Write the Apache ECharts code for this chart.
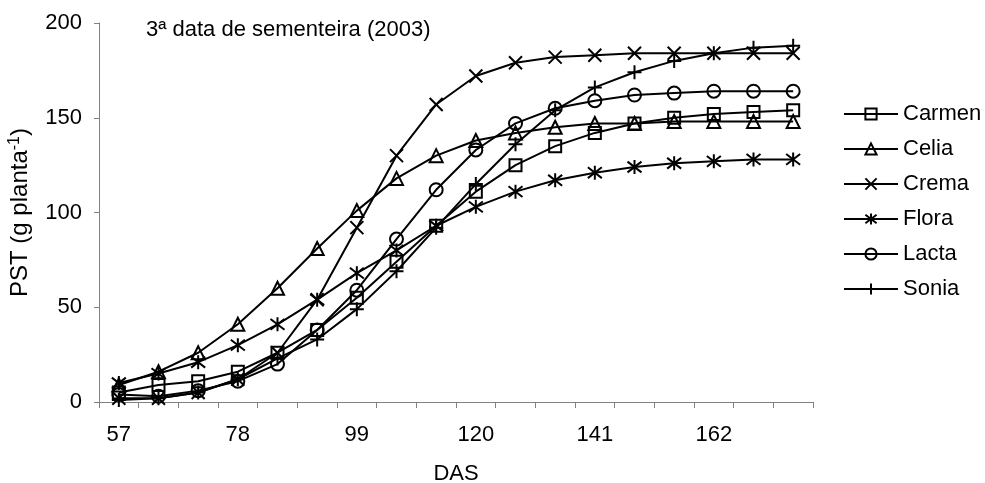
<!DOCTYPE html>
<html>
<head>
<meta charset="utf-8">
<script src="https://cdn.jsdelivr.net/npm/echarts@6/dist/echarts.min.js"></script>
<style>
  html, body { margin: 0; padding: 0; background: #fff; }
  #chart { width: 985px; height: 483px; }
</style>
</head>
<body>
<div id="chart"></div>
<script>
// Days after sowing (DAS), weekly samples
const das = [57, 64, 71, 78, 85, 92, 99, 106, 113, 120, 127, 134, 141, 148, 155, 162, 169, 176];

// Total dry weight (g planta^-1) per cultivar
const carmen = [5, 9, 11, 16, 26, 38, 55, 74, 93, 111, 125, 135, 142, 147, 150, 152, 153, 154];
const celia  = [9, 16, 26, 41, 60, 81, 101, 118, 130, 138, 142, 145, 147, 147, 148, 148, 148, 148];
const crema  = [2, 2, 5, 12, 26, 54, 92, 130, 157, 172, 179, 182, 183, 184, 184, 184, 184, 184];
const flora  = [10, 15, 21, 30, 41, 54, 68, 80, 93, 103, 111, 117, 121, 124, 126, 127, 128, 128];
const lacta  = [4, 3, 6, 11, 20, 38, 59, 86, 112, 133, 147, 155, 159, 162, 163, 164, 164, 164];
const sonia  = [1, 2, 5, 12, 23, 33, 49, 69, 92, 115, 136, 154, 166, 174, 180, 184, 187, 188];

const seriesNames = ['Carmen', 'Celia', 'Crema', 'Flora', 'Lacta', 'Sonia'];
const seriesData = [carmen, celia, crema, flora, lacta, sonia];

const yTicks = [0, 50, 100, 150, 200];
const titleText = '3ª data de sementeira (2003)';

// Outline-only markers
const markers = [
  'path://M0,0H10V10H0Z',                       // square
  'path://M5,0L10,10H0Z',                        // triangle
  'path://M0,0L10,10M10,0L0,10',                 // x
  'path://M0,0L10,10M10,0L0,10M5,-1.5V11.5',     // asterisk
  'circle',                                      // circle
  'path://M5,0V10M0,5H10'                        // plus
];
const markerSizes = [12, 13, 13, 14, 13, 14];

const FONT = '"Liberation Sans", Arial, sans-serif';
const AXIS_GRAY = '#808080';
const FS = 22;

const chart = echarts.init(document.getElementById('chart'), null, { renderer: 'canvas' });

chart.setOption({
  animation: false,
  backgroundColor: '#fff',
  textStyle: { fontFamily: FONT, color: '#000' },
  title: {
    text: titleText,
    left: 146,
    top: 19,
    padding: 0,
    textStyle: { fontSize: FS, fontWeight: 'normal', fontFamily: FONT, color: '#000' }
  },
  legend: {
    orient: 'vertical',
    left: 838,
    top: 98,
    itemWidth: 54,
    itemHeight: 14,
    itemGap: 13,
    data: seriesNames,
    selectedMode: false,
    textStyle: { fontSize: FS, fontFamily: FONT, color: '#000' }
  },
  grid: { left: 99, right: 172, top: 23, bottom: 81, outerBoundsMode: 'none', containLabel: false },
  xAxis: {
    type: 'category',
    data: das,
    boundaryGap: true,
    name: 'DAS',
    nameLocation: 'middle',
    nameGap: 61,
    nameTextStyle: { fontSize: FS, fontFamily: FONT, color: '#000' },
    axisLine: { lineStyle: { color: AXIS_GRAY, width: 1 } },
    axisTick: { show: true, interval: 0, length: 6, lineStyle: { color: AXIS_GRAY } },
    axisLabel: { interval: 2, margin: 22, fontSize: FS, fontFamily: FONT, color: '#000' },
    splitLine: { show: false }
  },
  yAxis: {
    type: 'value',
    min: yTicks[0],
    max: yTicks[yTicks.length - 1],
    interval: 50,
    name: 'PST (g planta{sup|-1})',
    nameLocation: 'middle',
    nameGap: 66,
    nameTextStyle: {
      fontSize: 24, fontFamily: FONT, color: '#000',
      rich: { sup: { fontSize: 16, fontFamily: FONT, color: '#000', verticalAlign: 'top', lineHeight: 26 } }
    },
    axisLine: { show: true, lineStyle: { color: AXIS_GRAY, width: 1 } },
    axisTick: { show: true, length: 5, lineStyle: { color: AXIS_GRAY } },
    axisLabel: { margin: 17, fontSize: FS, fontFamily: FONT, color: '#000' },
    splitLine: { show: false }
  },
  series: seriesNames.map((name, i) => ({
    name: name,
    type: 'line',
    data: seriesData[i],
    symbol: markers[i],
    symbolSize: markerSizes[i],
    showAllSymbol: true,
    lineStyle: { color: '#000', width: 2 },
    itemStyle: { color: 'none', borderColor: '#000', borderWidth: 2 },
    emphasis: { disabled: true }
  }))
});
</script>
</body>
</html>
